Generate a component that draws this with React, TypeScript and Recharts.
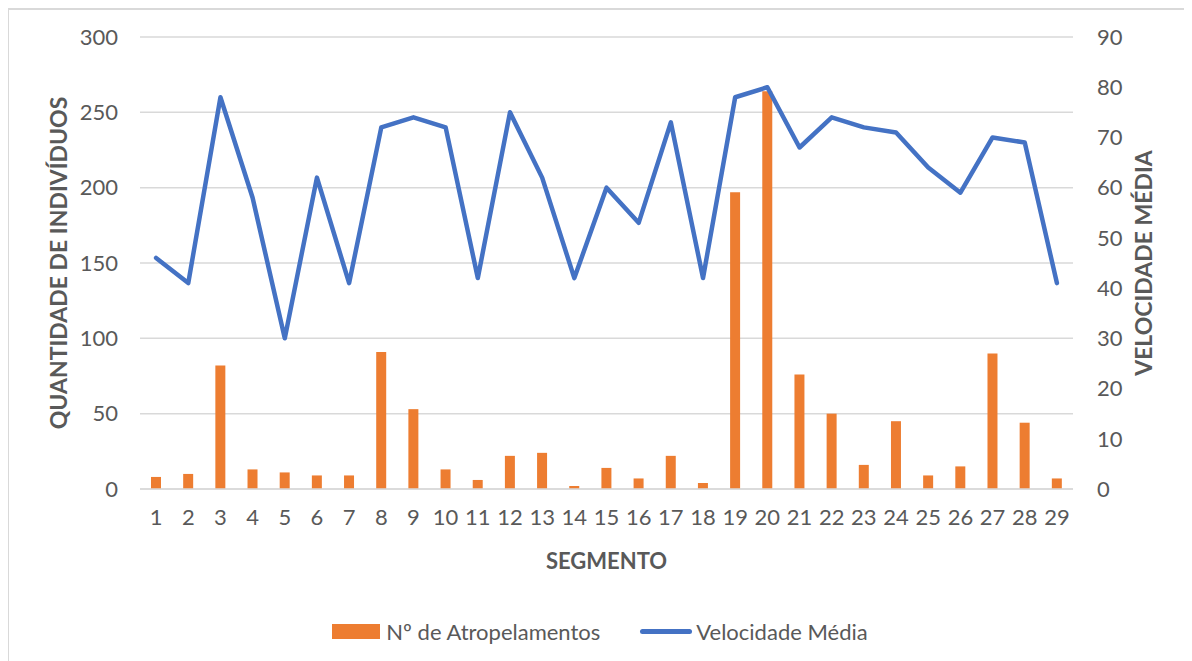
import React from 'react';
import { ComposedChart, Bar, Line, XAxis, YAxis, CartesianGrid, Legend, Label } from 'recharts';

const segments = ['1','2','3','4','5','6','7','8','9','10','11','12','13','14','15','16','17','18','19','20','21','22','23','24','25','26','27','28','29'];
const atropelamentos = [8,10,82,13,11,9,9,91,53,13,6,22,24,2,14,7,22,4,197,264,76,50,16,45,9,15,90,44,7];
const velocidade = [46,41,78,58,30,62,41,72,74,72,42,75,62,42,60,53,73,42,78,80,68,74,72,71,64,59,70,69,41];
const leftTicks = [0,50,100,150,200,250,300];
const rightTicks = [0,10,20,30,40,50,60,70,80,90];

const data = segments.map((s, i) => ({
  segmento: s,
  atropelamentos: atropelamentos[i],
  velocidade: velocidade[i],
}));

const FONT = "Lato, 'Open Sans', sans-serif";
const TEXT = '#595959';
const GRID = '#d9d9d9';

const LeftTitle = (props: any) => {
  const vb = props.viewBox || {};
  const x = vb.x + 50;
  const y = vb.y + vb.height / 2;
  return (
    <text x={x} y={y} transform={`rotate(-90 ${x} ${y})`} textAnchor="middle" dominantBaseline="central"
      fill={TEXT} fontFamily={FONT} fontWeight={700} fontSize={23}>QUANTIDADE DE INDIVÍDUOS</text>
  );
};

const RightTitle = (props: any) => {
  const vb = props.viewBox || {};
  const x = vb.x + 70;
  const y = vb.y + vb.height / 2;
  return (
    <text x={x} y={y} transform={`rotate(-90 ${x} ${y})`} textAnchor="middle" dominantBaseline="central"
      fill={TEXT} fontFamily={FONT} fontWeight={700} fontSize={23}>VELOCIDADE MÉDIA</text>
  );
};

const BottomTitle = (props: any) => {
  const vb = props.viewBox || {};
  const x = vb.x + vb.width / 2;
  const y = vb.y + 71;
  return (
    <text x={x} y={y} textAnchor="middle" dominantBaseline="central"
      fill={TEXT} fontFamily={FONT} fontWeight={700} fontSize={22}>SEGMENTO</text>
  );
};

const renderLegend = (props: any) => {
  const payload = props.payload || [];
  return (
    <div style={{ display: 'flex', justifyContent: 'center', alignItems: 'center', height: 44, fontFamily: FONT, fontSize: 22, color: TEXT }}>
      {payload.map((p: any, i: number) => (
        <div key={i} style={{ display: 'flex', alignItems: 'center', marginLeft: i === 0 ? 0 : 40 }}>
          {p.type === 'line' ? (
            <span style={{ display: 'inline-block', width: 52, height: 5, borderRadius: 3, background: p.color, marginRight: 4 }} />
          ) : (
            <span style={{ display: 'inline-block', width: 48, height: 15, background: p.color, marginRight: 6 }} />
          )}
          <span>{p.value}</span>
        </div>
      ))}
    </div>
  );
};

export default function App() {
  return (
    <div style={{ position: 'relative', width: 1184, height: 653, fontFamily: FONT }}>
      <div style={{ position: 'absolute', left: -1, top: 0, right: 0, bottom: 0, borderTop: `2px solid ${GRID}`, borderLeft: `2px solid ${GRID}`, pointerEvents: 'none' }} />
      <ComposedChart width={1184} height={653} data={data} margin={{ top: 29, right: 0, bottom: 8, left: 0 }}>
        <CartesianGrid yAxisId="left" vertical={false} stroke={GRID} strokeWidth={1.5} />
        <XAxis dataKey="segmento" interval={0} tickLine={false} tickSize={0} tickMargin={20} height={120}
          axisLine={{ stroke: GRID, strokeWidth: 1.5 }} tick={{ fill: TEXT, fontSize: 22, fontFamily: FONT }}>
          <Label content={BottomTitle} />
        </XAxis>
        <YAxis yAxisId="left" domain={[0, 300]} ticks={leftTicks} width={132} axisLine={false} tickLine={false}
          tickSize={0} tickMargin={22} tick={{ fill: TEXT, fontSize: 22, fontFamily: FONT }}>
          <Label content={LeftTitle} />
        </YAxis>
        <YAxis yAxisId="right" orientation="right" domain={[0, 90]} ticks={rightTicks} width={119} axisLine={false}
          tickLine={false} tickSize={0} tickMargin={24} tick={{ fill: TEXT, fontSize: 22, fontFamily: FONT }}>
          <Label content={RightTitle} />
        </YAxis>
        <Legend verticalAlign="bottom" content={renderLegend} />
        <Bar yAxisId="left" dataKey="atropelamentos" name="Nº de Atropelamentos" fill="#ED7D31" barSize={10} isAnimationActive={false} />
        <Line yAxisId="right" type="linear" dataKey="velocidade" name="Velocidade Média" stroke="#4472C4" strokeWidth={4.5}
          dot={false} activeDot={false} strokeLinecap="round" strokeLinejoin="round" isAnimationActive={false} />
      </ComposedChart>
    </div>
  );
}
